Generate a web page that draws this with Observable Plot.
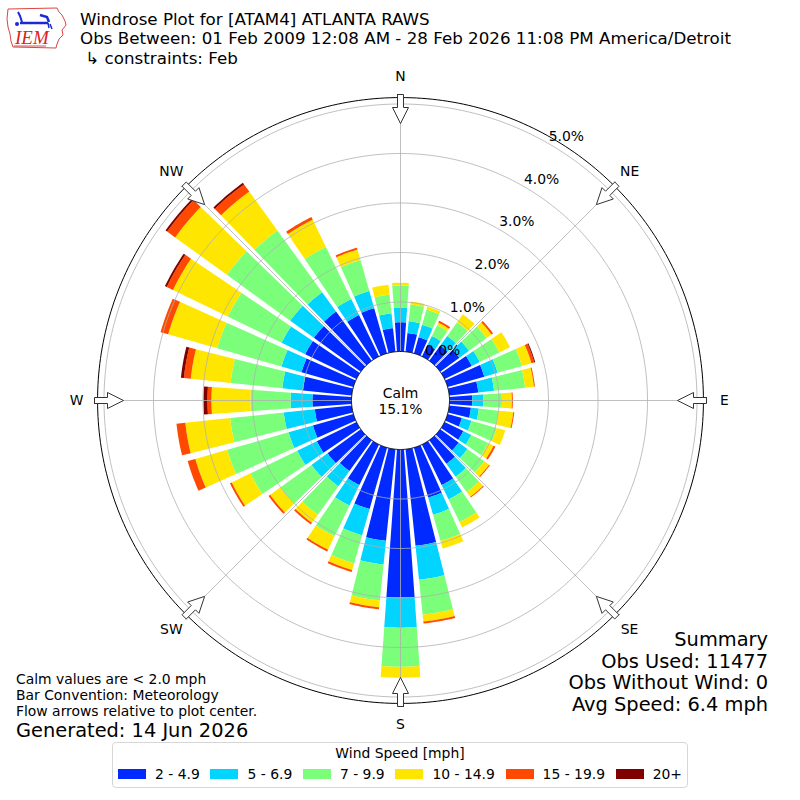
<!DOCTYPE html>
<html>
<head>
<meta charset="utf-8">
<script src="https://cdn.jsdelivr.net/npm/d3@7"></script>
<script src="https://cdn.jsdelivr.net/npm/@observablehq/plot@0.6"></script>
<style>
  html, body { margin: 0; padding: 0; background: #fff; }
  #wrap { position: relative; width: 800px; height: 800px; overflow: hidden; font-family: "DejaVu Sans", sans-serif; color: #000; }
  #chart { position: absolute; left: 0; top: 0; }
  .abs { position: absolute; white-space: pre; }
  .title { left: 80px; font-size: 16.7px; line-height: 17px; }
  .note { left: 16px; font-size: 13.9px; line-height: 15px; }
  .generated { left: 16px; font-size: 19.4px; line-height: 16px; }
  .summary { right: 32px; font-size: 19.4px; line-height: 20px; text-align: right; }
  #legend { left: 112px; top: 742px; width: 576px; height: 46px; box-sizing: border-box; border: 1px solid #d6d6d6; border-radius: 4px; background: #fff; }
  #legend .ltitle { position: absolute; left: 0; right: 0; top: 2px; text-align: center; font-size: 13.9px; line-height: 16px; }
  #legend .lrow { position: absolute; left: 5px; top: 23.2px; display: flex; align-items: center; font-size: 13.9px; line-height: 16px; }
  #legend .sw { width: 28px; height: 9.7px; margin-right: 9px; }
  #legend .item { display: flex; align-items: center; margin-right: 10.7px; white-space: pre; }
  #logo { left: 0; top: 0; }
</style>
</head>
<body>
<div id="wrap"></div>
<script>
// ---------------- data ----------------
const directions = [0,10,20,30,40,50,60,70,80,90,100,110,120,130,140,150,160,170,180,190,200,210,220,230,240,250,260,270,280,290,300,310,320,330,340,350];
const speedBins = ["2 - 4.9", "5 - 6.9", "7 - 9.9", "10 - 14.9", "15 - 19.9", "20+"];
const binColors = ["#002aff", "#00d4ff", "#7bff7b", "#ffe600", "#ff4900", "#800000"];
// percent of observations per direction (meteorological convention, direction wind comes from)
const pct_2_5   = [0.59,0.38,0.34,0.26,0.38,0.48,0.61,0.77,0.59,0.46,0.44,0.30,0.42,0.46,0.59,0.91,1.05,1.96,2.99,1.86,1.29,0.91,0.77,0.83,0.89,0.85,0.75,0.79,0.99,1.09,1.15,1.17,1.23,0.93,0.95,0.48];
const pct_5_7   = [0.30,0.24,0.26,0.20,0.24,0.24,0.18,0.28,0.32,0.22,0.16,0.20,0.18,0.22,0.32,0.32,0.36,0.69,0.61,0.48,0.55,0.46,0.38,0.40,0.44,0.51,0.63,0.44,0.42,0.42,0.53,0.59,0.48,0.36,0.36,0.30];
const pct_7_10  = [0.44,0.34,0.32,0.24,0.34,0.44,0.44,0.51,0.63,0.38,0.40,0.53,0.38,0.42,0.38,0.51,0.55,0.71,0.79,0.73,0.59,0.69,0.71,0.77,1.05,1.29,1.09,0.81,1.05,1.35,1.21,1.58,1.54,1.17,0.65,0.38];
const pct_10_15 = [0.06,0.06,0.06,0.06,0.20,0.12,0.24,0.20,0.18,0.20,0.30,0.18,0.12,0.12,0.12,0.12,0.16,0.14,0.22,0.14,0.14,0.30,0.20,0.26,0.42,0.67,0.91,0.79,0.81,1.03,1.23,1.29,0.97,0.61,0.22,0.20];
const pct_15_20 = [0,0,0,0.04,0,0.04,0,0.06,0.02,0.02,0.02,0,0.04,0.02,0.02,0,0,0.04,0,0.04,0.04,0.04,0.04,0.04,0.04,0.16,0.18,0.08,0.14,0.16,0.14,0.20,0.18,0.06,0.04,0];
const pct_20p   = [0,0,0,0,0,0,0,0.02,0,0,0,0,0,0,0,0,0,0,0,0,0,0,0,0,0,0,0,0.08,0.06,0,0.04,0.04,0.04,0,0,0];
const calmPct = 15.1;
const radialTicks = [0, 1, 2, 3, 4, 5];
const compassLabels = ["N", "NE", "E", "SE", "S", "SW", "W", "NW"];
const compassAngles = [0, 45, 90, 135, 180, 225, 270, 315];

const titleLines = [
  "Windrose Plot for [ATAM4] ATLANTA RAWS",
  "Obs Between: 01 Feb 2009 12:08 AM - 28 Feb 2026 11:08 PM America/Detroit",
  " \u21b3 constraints: Feb"
];
const noteLines = ["Calm values are < 2.0 mph", "Bar Convention: Meteorology", "Flow arrows relative to plot center."];
const generatedText = "Generated: 14 Jun 2026";
const summaryLines = ["Summary", "Obs Used: 11477", "Obs Without Wind: 0", "Avg Speed: 6.4 mph"];
const legendTitle = "Wind Speed [mph]";

// ---------------- geometry ----------------
const series = [pct_2_5, pct_5_7, pct_7_10, pct_10_15, pct_15_20, pct_20p];
const rScale = Plot.scale({x: {type: "linear", domain: [0, 5], range: [49, 296.5]}});
const R = v => rScale.apply(v);
const OUTER_PCT = 5.13;
const LABEL_R = R(5) + 27.5;
const HALF = 4.1; // half bar opening, degrees
const toXY = (r, deg) => ({x: r * Math.sin(deg * Math.PI / 180), y: r * Math.cos(deg * Math.PI / 180)});

const sectorPts = [];
directions.forEach((dir, i) => {
  let cum = 0;
  series.forEach((vals, k) => {
    const v = vals[i];
    if (!(v > 0)) return;
    const r0 = R(cum), r1 = R(cum + v);
    cum += v;
    const id = dir + "-" + k;
    const steps = 10;
    for (let s = 0; s <= steps; s++) sectorPts.push({id, bin: speedBins[k], ...toXY(r1, dir - HALF + 2 * HALF * s / steps)});
    for (let s = steps; s >= 0; s--) sectorPts.push({id, bin: speedBins[k], ...toXY(r0, dir - HALF + 2 * HALF * s / steps)});
  });
});

const circlePts = (id, r) => d3.range(0, 361, 1).map(a => ({id, ...toXY(r, a)}));
const gridPts = radialTicks.slice(1).flatMap(t => circlePts("g" + t, R(t)));
const outerPts = circlePts("outer", R(OUTER_PCT));
const calmPts = circlePts("calm", R(0));
const spokes = compassAngles.map(a => {
  const p = toXY(R(OUTER_PCT), a);
  return {x1: 0, y1: 0, x2: p.x, y2: p.y};
});

// hollow inward-pointing flow arrows
const arrowShape = [[306,-3],[293,-3],[293,-8],[277,0],[293,8],[293,3],[306,3],[306,-3]];
const arrowPts = compassAngles.flatMap(a => {
  const rad = a * Math.PI / 180;
  const ux = Math.sin(rad), uy = Math.cos(rad);
  const px = Math.cos(rad), py = -Math.sin(rad);
  return arrowShape.map(([s, w]) => ({id: "a" + a, x: s * ux + w * px, y: s * uy + w * py}));
});

const FS = 13.9;
const chart = Plot.plot({
  width: 800,
  height: 800,
  margin: 0,
  x: {domain: [-400, 400], range: [0, 800], axis: null},
  y: {domain: [-400, 400], range: [800, 0], axis: null},
  color: {domain: speedBins, range: binColors},
  style: {fontFamily: "DejaVu Sans", background: "transparent", overflow: "visible"},
  marks: [
    Plot.line(sectorPts, {x: "x", y: "y", z: "id", fill: "bin", stroke: "none"}),
    Plot.line(gridPts, {x: "x", y: "y", z: "id", stroke: "#b0b0b0", strokeWidth: 0.8}),
    Plot.link(spokes, {x1: "x1", y1: "y1", x2: "x2", y2: "y2", stroke: "#b0b0b0", strokeWidth: 0.8}),
    Plot.line(outerPts, {x: "x", y: "y", z: "id", stroke: "#000", strokeWidth: 1}),
    Plot.line(calmPts, {x: "x", y: "y", z: "id", fill: "#fff", stroke: "#000", strokeWidth: 1}),
    Plot.line(arrowPts, {x: "x", y: "y", z: "id", fill: "#fff", stroke: "#333", strokeWidth: 1}),
    Plot.text(radialTicks, {
      x: d => toXY(R(d), 30).x, y: d => toXY(R(d), 30).y,
      text: d => d.toFixed(1) + "%", textAnchor: "start", lineAnchor: "bottom", dy: -3, fontSize: FS, fill: "#000"
    }),
    Plot.text(compassLabels, {
      x: (d, i) => toXY(LABEL_R, compassAngles[i]).x, y: (d, i) => toXY(LABEL_R, compassAngles[i]).y,
      text: d => d, textAnchor: "middle", lineAnchor: "middle", fontSize: FS, fill: "#000"
    }),
    Plot.text([calmPct], {x: () => 0, y: () => 0, text: d => "Calm\n" + d.toFixed(1) + "%", textAnchor: "middle", lineAnchor: "middle", lineHeight: 1.15, fontSize: FS, fill: "#000"})
  ]
});
chart.id = "chart";

const wrap = document.getElementById("wrap");
wrap.appendChild(chart);

function addDiv(cls, text, top) {
  const d = document.createElement("div");
  d.className = "abs " + cls;
  d.textContent = text;
  d.style.top = top + "px";
  wrap.appendChild(d);
  return d;
}
// each line placed so that its baseline lands where the reference shows it
titleLines.forEach((t, i) => addDiv("title", t, 10.7 + 19.5 * i));
noteLines.forEach((t, i) => addDiv("note", t, 671.7 + 16 * i));
addDiv("generated", generatedText, 722.8);
summaryLines.forEach((t, i) => addDiv("summary", t, 630.3 + 21.5 * i));

// legend
const leg = document.createElement("div");
leg.className = "abs";
leg.id = "legend";
const lt = document.createElement("div");
lt.className = "ltitle";
lt.textContent = legendTitle;
leg.appendChild(lt);
const row = document.createElement("div");
row.className = "lrow";
speedBins.forEach((b, i) => {
  const it = document.createElement("div");
  it.className = "item";
  const sw = document.createElement("div");
  sw.className = "sw";
  sw.style.background = binColors[i];
  const tx = document.createElement("span");
  tx.textContent = b;
  it.appendChild(sw); it.appendChild(tx);
  row.appendChild(it);
});
leg.appendChild(row);
wrap.appendChild(leg);

// logo (IEM)
const logo = document.createElementNS("http://www.w3.org/2000/svg", "svg");
logo.setAttribute("width", "75");
logo.setAttribute("height", "55");
logo.setAttribute("class", "abs");
logo.id = "logo";
logo.innerHTML = `
  <path d="M8,9 L57,8 L59,12 L62,15 L65,21 L66,25 L62,30 L63,35 L59,39 L57,44 L56,48 L13,47 L11,41 L10,34 L8,27 L7,19 Z" fill="none" stroke="#d44" stroke-width="1"/>
  <path d="M20,23 L48,23" stroke="#1a2bd6" stroke-width="2.5"/>
  <path d="M18,12 L20,16 L22,22" fill="none" stroke="#1a2bd6" stroke-width="2"/>
  <path d="M40,15 L47,17 L49,22" fill="none" stroke="#1a2bd6" stroke-width="2.5"/>
  <path d="M48,23 L49,28 M50,24 L52,29" stroke="#1a2bd6" stroke-width="1.5"/>
  <circle cx="17" cy="24" r="2" fill="#1a2bd6"/>
  <text x="15" y="44" font-family="Liberation Serif, serif" font-style="italic" font-size="19" fill="#d22">IEM</text>
  <path d="M14,46 L46,46" stroke="#d22" stroke-width="0.8"/>`;
wrap.appendChild(logo);
</script>
</body>
</html>
